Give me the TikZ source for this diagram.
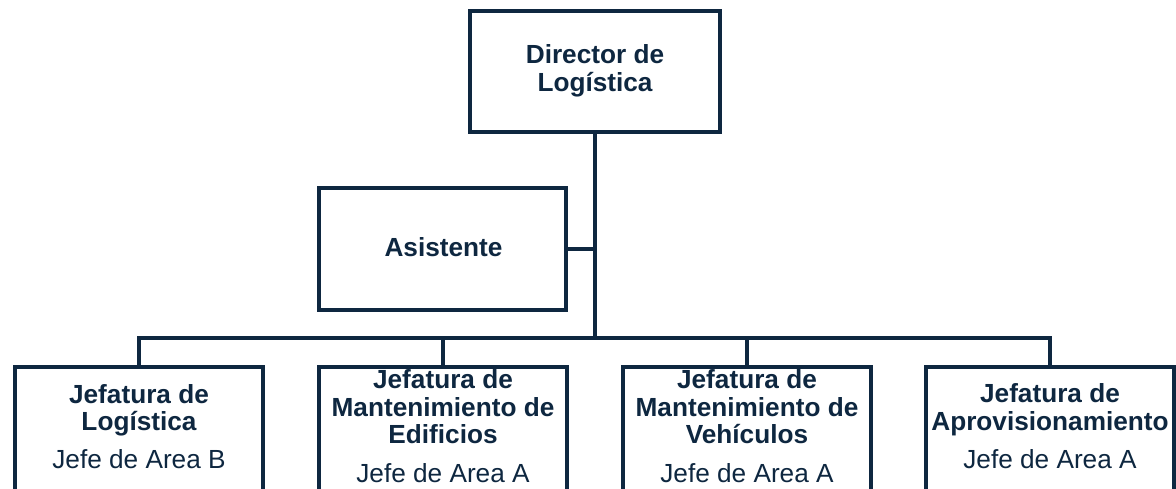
\documentclass[tikz,border=0pt]{standalone}
\usepackage{fontspec}
\setmainfont{Liberation Sans}
\definecolor{navy}{RGB}{14,39,64}
\begin{document}
\begin{tikzpicture}[x=1pt,y=-1pt,
  box/.style={draw=navy, line width=4pt, fill=white, inner sep=0pt},
  bbox/.style={box, minimum width=248pt, minimum height=150pt, anchor=north},
  conn/.style={draw=navy, line width=4pt},
  bt/.style={text=navy, font=\fontsize{26.2}{28}\selectfont\bfseries, anchor=base, inner sep=0pt},
  rt/.style={text=navy, font=\fontsize{26.2}{28}\selectfont, anchor=base, inner sep=0pt}]
\useasboundingbox (0,0) rectangle (1176,489);
\clip (0,0) rectangle (1176,489);
% boxes
\node[box, minimum width=250pt, minimum height=121pt] (dir) at (595,72) {};
\node[box, minimum width=247pt, minimum height=122pt] (asi) at (442.5,249) {};
\node[bbox] (b1) at (139,365) {};
\node[bbox] (b2) at (443,365) {};
\node[bbox] (b3) at (747,365) {};
\node[bbox] (b4) at (1050,365) {};
\coordinate (bus) at (0,338);
% connectors
\draw[conn] (dir.south) -- (dir.south |- bus);
\draw[conn] (asi.east) -- (asi.east -| dir.south);
\draw[conn] (b1.north) -- (b1.north |- bus) -- (b4.north |- bus) -- (b4.north);
\draw[conn] (b2.north) -- (b2.north |- bus);
\draw[conn] (b3.north) -- (b3.north |- bus);
% texts
\node[bt] (t0a) at (595,64) {Director de};
\node[bt] (t0b) at (595,92) {Logística};
\node[bt] (ta) at (443.5,257) {Asistente};
\node[bt] (t1a) at (139,403) {Jefatura de};
\node[bt] (t1b) at (139,430) {Logística};
\node[rt] (t1c) at (139,468) {Jefe de Area B};
\node[bt] (t2a) at (443,388) {Jefatura de};
\node[bt] (t2b) at (443,416) {Mantenimiento de};
\node[bt] (t2c) at (443,443) {Edificios};
\node[rt] (t2d) at (443,482) {Jefe de Area A};
\node[bt] (t3a) at (747,388) {Jefatura de};
\node[bt] (t3b) at (747,416) {Mantenimiento de};
\node[bt] (t3c) at (747,443) {Vehículos};
\node[rt] (t3d) at (747,482) {Jefe de Area A};
\node[bt] (t4a) at (1050,402) {Jefatura de};
\node[bt] (t4b) at (1050,430) {Aprovisionamiento};
\node[rt] (t4c) at (1050,468) {Jefe de Area A};
\end{tikzpicture}
\end{document}
